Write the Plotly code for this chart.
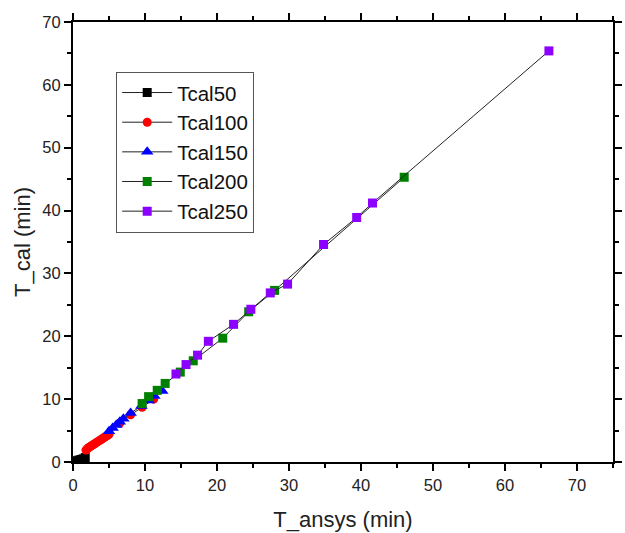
import plotly.graph_objects as go

# Calculated vs. simulated times (min)
t50_ansys = [0.2, 0.5, 0.8, 1.1, 1.4, 1.7]
t50_cal = [0.1, 0.2, 0.3, 0.4, 0.5, 0.7]

t100_ansys = [1.8, 2.0, 2.2, 2.4, 2.6, 2.8, 3.0, 3.2, 3.4, 3.6, 3.8, 4.0, 4.2, 4.4, 4.6, 4.8, 5.0,
              6.5, 8.0, 9.6, 11.2]
t100_cal = [1.9, 2.1, 2.3, 2.45, 2.6, 2.75, 2.9, 3.05, 3.2, 3.35, 3.5, 3.65, 3.8, 3.95, 4.1, 4.25, 4.4,
            6.2, 7.5, 8.7, 10.0]

t150_ansys = [5.0, 5.5, 6.0, 6.5, 7.0, 8.0, 9.5, 10.5, 11.3, 12.4]
t150_cal = [4.9, 5.4, 5.9, 6.4, 6.9, 7.8, 8.9, 9.8, 10.5, 11.3]

t200_ansys = [9.6, 10.5, 11.7, 12.8, 14.9, 16.7, 20.8, 24.4, 28.0, 46.0]
t200_cal = [9.3, 10.4, 11.4, 12.5, 14.3, 16.1, 19.7, 23.9, 27.3, 45.3]

t250_ansys = [14.3, 15.7, 17.3, 18.8, 22.3, 24.7, 27.4, 29.8, 34.8, 39.4, 41.6, 66.1]
t250_cal = [14.0, 15.5, 17.0, 19.2, 21.9, 24.3, 26.9, 28.3, 34.6, 38.9, 41.2, 65.4]

series = [
    ("Tcal50", t50_ansys, t50_cal, "#000000", "square", 9),
    ("Tcal100", t100_ansys, t100_cal, "#ff0000", "circle", 9),
    ("Tcal150", t150_ansys, t150_cal, "#0000ff", "triangle-up", 11),
    ("Tcal200", t200_ansys, t200_cal, "#008000", "square", 9),
    ("Tcal250", t250_ansys, t250_cal, "#8b00ff", "square", 9),
]

FONT = "Liberation Sans, Arial, sans-serif"

fig = go.Figure()
for name, xs, ys, color, symbol, size in series:
    fig.add_trace(go.Scatter(
        x=xs, y=ys, name=name, mode="lines+markers",
        line=dict(color="#222222", width=1),
        marker=dict(color=color, symbol=symbol, size=size, line=dict(width=0)),
    ))

axis_common = dict(
    showline=True, linecolor="black", linewidth=2, mirror="ticks",
    ticks="outside", ticklen=7, tickwidth=1.5, tickcolor="black",
    showgrid=False, zeroline=False,
    tickfont=dict(family=FONT, size=16.5, color="#222"),
    minor=dict(ticks="outside", ticklen=4, tickwidth=1.5, tickcolor="black", dtick=5),
)

fig.update_xaxes(range=[0, 75], dtick=10, tick0=0,
                 title=dict(text="T_ansys (min)", font=dict(family=FONT, size=22, color="#222"),
                            standoff=19),
                 **axis_common)
fig.update_yaxes(range=[0, 70], dtick=10, tick0=0,
                 title=dict(text="T_cal (min)", font=dict(family=FONT, size=22, color="#222"),
                            standoff=6),
                 **axis_common)

fig.update_layout(
    width=625, height=533,
    margin=dict(l=73, r=3, t=22, b=71),
    paper_bgcolor="white", plot_bgcolor="white",
    font=dict(family=FONT, color="#222"),
    legend=dict(
        x=0.08, y=0.887, xanchor="left", yanchor="top",
        bordercolor="#555", borderwidth=1, bgcolor="white",
        font=dict(family=FONT, size=20.5, color="#111"),
        itemwidth=50,
        tracegroupgap=0,
    ),
    showlegend=True,
)

fig.write_html("out.html")
